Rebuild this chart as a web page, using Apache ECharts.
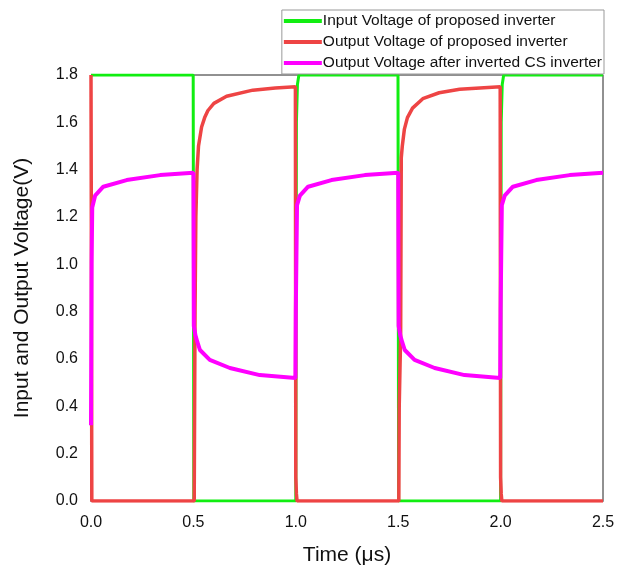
<!DOCTYPE html>
<html><head><meta charset="utf-8">
<script src="https://cdn.jsdelivr.net/npm/echarts@6/dist/echarts.min.js"></script>
<style>html,body{margin:0;padding:0;background:#fff}#c{width:628px;height:572px}</style>
</head><body><div id="c"></div>
<script>
const seriesNames = ["Input Voltage of proposed inverter","Output Voltage of proposed inverter","Output Voltage after inverted CS inverter"];
const xTicks = [0, 0.5, 1.0, 1.5, 2.0, 2.5];
const yTicks = [0,0.2,0.4,0.6,0.8,1.0,1.2,1.4,1.6,1.8];

// Input voltage (green)
const inT = [0, 0.499, 0.502, 1.0, 1.003, 1.008, 1.015, 1.499, 1.502, 2.0, 2.003, 2.008, 2.015, 2.5];
const inV = [1.8, 1.8, 0, 0, 1.6, 1.76, 1.8, 1.8, 0, 0, 1.6, 1.76, 1.8, 1.8];

// Output voltage of proposed inverter (red)
const outT = [0, 0.002, 0.004, 0.504, 0.508, 0.512, 0.518, 0.525, 0.54, 0.555, 0.571, 0.6, 0.662, 0.79, 0.9, 0.998,
  1.0, 1.003, 1.006, 1.503, 1.505, 1.512, 1.515, 1.52, 1.53, 1.545, 1.57, 1.62, 1.7, 1.8, 1.998,
  2.0, 2.003, 2.006, 2.5];
const outV = [1.8, 1.0, 0, 0, 0.8, 1.2, 1.4, 1.5, 1.58, 1.62, 1.65, 1.68, 1.71, 1.736, 1.745, 1.75,
  0.1, 0.03, 0, 0, 0.4, 0.7, 1.45, 1.5, 1.57, 1.62, 1.66, 1.70, 1.725, 1.74, 1.75,
  0.1, 0.03, 0, 0];

// Output voltage after inverted CS inverter (magenta)
const csT = [0, 0.003, 0.006, 0.02, 0.06, 0.174, 0.337, 0.5, 0.502, 0.51, 0.52, 0.532, 0.58, 0.678, 0.824, 0.998,
  1.0, 1.003, 1.006, 1.02, 1.06, 1.174, 1.337, 1.5, 1.502, 1.51, 1.52, 1.532, 1.58, 1.678, 1.824, 1.998,
  2.0, 2.003, 2.006, 2.02, 2.06, 2.174, 2.337, 2.5];
const csV = [0.32, 1.0, 1.24, 1.29, 1.328, 1.356, 1.377, 1.387, 0.74, 0.70, 0.67, 0.638, 0.596, 0.562, 0.532, 0.52,
  0.8, 1.03, 1.25, 1.29, 1.328, 1.356, 1.377, 1.387, 0.74, 0.70, 0.67, 0.638, 0.596, 0.562, 0.532, 0.52,
  0.8, 1.03, 1.25, 1.29, 1.328, 1.356, 1.377, 1.387];

const zip = (a, b) => a.map((x, i) => [x, b[i]]);
const font = "Arial, 'Liberation Sans', sans-serif";

const chart = echarts.init(document.getElementById('c'), null, {renderer: 'canvas'});
chart.setOption({
  backgroundColor: '#fff',
  animation: false,
  grid: {left: 91, right: 25, top: 75, bottom: 71, show: true, borderColor: '#222', borderWidth: 1},
  legend: {
    data: seriesNames,
    orient: 'vertical',
    right: 24, top: 10,
    padding: [2, 2, 2, 2],
    itemGap: 3,
    icon: 'rect',
    itemWidth: 38, itemHeight: 4,
    backgroundColor: '#fff',
    borderColor: '#999', borderWidth: 1,
    textStyle: {fontFamily: font, fontSize: 15.5, lineHeight: 18, color: '#111', padding: [0,0,0,-4]}
  },
  xAxis: {
    type: 'value', min: 0, max: 2.5, interval: 0.5,
    name: 'Time (\u03bcs)', nameLocation: 'middle', nameGap: 44,
    nameTextStyle: {fontFamily: font, fontSize: 21, color: '#111'},
    axisLine: {show: true, lineStyle: {color: '#222'}},
    axisTick: {show: false},
    splitLine: {show: false},
    axisLabel: {fontFamily: font, fontSize: 16, color: '#111', margin: 14, formatter: v => v.toFixed(1)}
  },
  yAxis: {
    type: 'value', min: 0, max: 1.8, interval: 0.2,
    name: 'Input and Output Voltage(V)', nameLocation: 'middle', nameGap: 58,
    nameTextStyle: {fontFamily: font, fontSize: 21, color: '#111'},
    axisLine: {show: true, lineStyle: {color: '#222'}},
    axisTick: {show: false},
    splitLine: {show: false},
    axisLabel: {fontFamily: font, fontSize: 16, color: '#111', margin: 13, formatter: v => v.toFixed(1)}
  },
  series: [
    {name: seriesNames[0], type: 'line', data: zip(inT, inV), showSymbol: false, symbol: 'none',
     lineStyle: {color: '#11ee11', width: 3}, itemStyle: {color: '#11ee11'}},
    {name: seriesNames[1], type: 'line', data: zip(outT, outV), showSymbol: false, symbol: 'none',
     lineStyle: {color: '#ee4444', width: 3.5}, itemStyle: {color: '#ee4444'}},
    {name: seriesNames[2], type: 'line', data: zip(csT, csV), showSymbol: false, symbol: 'none',
     lineStyle: {color: '#ff00ff', width: 4}, itemStyle: {color: '#ff00ff'}}
  ]
});
</script></body></html>
